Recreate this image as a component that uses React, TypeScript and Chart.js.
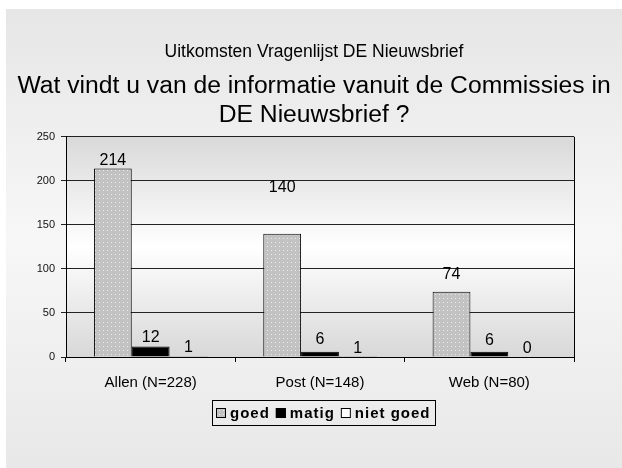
import React, { useEffect, useRef } from 'react';
import { Chart, registerables } from 'chart.js';

Chart.register(...registerables);

const categories = ['Allen (N=228)', 'Post (N=148)', 'Web (N=80)'];
const seriesNames = ['goed', 'matig', 'niet goed'];
const goedValues = [214, 140, 74];
const matigValues = [12, 6, 6];
const nietGoedValues = [1, 1, 0];
const yTickValues = [0, 50, 100, 150, 200, 250];
const topTitle = 'Uitkomsten Vragenlijst DE Nieuwsbrief';
const mainTitle = ['Wat vindt u van de informatie vanuit de Commissies in', 'DE Nieuwsbrief ?'];

// style: how far (px) each value label sits above its bar, per series
const labelLiftGoed = [4, 42, 13];
const labelLiftMatig = [4, 8, 7];
const labelLiftNietGoed = [4, 3, 4];
const labelLifts = [labelLiftGoed, labelLiftMatig, labelLiftNietGoed];

const FONT = '"Liberation Sans", Arial, Helvetica, sans-serif';

function makePattern(): CanvasPattern | string {
  const c = document.createElement('canvas');
  c.width = 4;
  c.height = 4;
  const g = c.getContext('2d');
  if (!g) return '#c4c4c4';
  g.fillStyle = '#c2c2c2';
  g.fillRect(0, 0, 4, 4);
  g.fillStyle = '#ececec';
  g.fillRect(1, 1, 1, 1);
  const p = g.createPattern(c, 'repeat');
  return p || '#c4c4c4';
}

const backgroundPlugin = {
  id: 'bgPlugin',
  beforeDraw(chart: any) {
    const { ctx, width, height, chartArea } = chart;
    ctx.save();
    const g = ctx.createLinearGradient(0, 0, 0, height);
    g.addColorStop(0, '#e6e6e6');
    g.addColorStop(0.5, '#f7f7f7');
    g.addColorStop(1, '#e8e8e8');
    ctx.fillStyle = g;
    ctx.fillRect(0, 0, width, height);
    const pg = ctx.createLinearGradient(0, chartArea.top, 0, chartArea.bottom);
    pg.addColorStop(0, '#d9d9d9');
    pg.addColorStop(0.5, '#ffffff');
    pg.addColorStop(1, '#d8d8d8');
    ctx.fillStyle = pg;
    ctx.fillRect(chartArea.left, chartArea.top, chartArea.right - chartArea.left, chartArea.bottom - chartArea.top);
    ctx.restore();
  },
};

const framePlugin = {
  id: 'framePlugin',
  afterDraw(chart: any) {
    const { ctx, chartArea } = chart;
    ctx.save();
    ctx.strokeStyle = '#000';
    ctx.lineWidth = 1;
    ctx.beginPath();
    ctx.moveTo(Math.round(chartArea.right) + 0.5, chartArea.top);
    ctx.lineTo(Math.round(chartArea.right) + 0.5, chartArea.bottom);
    ctx.stroke();
    ctx.restore();
  },
};

const valueLabelPlugin = {
  id: 'valueLabels',
  afterDatasetsDraw(chart: any) {
    const ctx = chart.ctx;
    ctx.save();
    ctx.font = `16px ${FONT}`;
    ctx.fillStyle = '#000';
    ctx.textAlign = 'center';
    ctx.textBaseline = 'alphabetic';
    chart.data.datasets.forEach((ds: any, di: number) => {
      const meta = chart.getDatasetMeta(di);
      meta.data.forEach((el: any, i: number) => {
        const lift = (labelLifts[di] && labelLifts[di][i]) || 4;
        ctx.fillText(String(ds.data[i]), el.x, el.y - lift);
      });
    });
    ctx.restore();
  },
};

const boxLegendPlugin = {
  id: 'boxLegend',
  afterDraw(chart: any) {
    const { ctx, chartArea } = chart;
    const xs = chart.scales.x;
    ctx.save();
    ctx.font = `bold 15px ${FONT}`;
    try { (ctx as any).letterSpacing = '1px'; } catch (e) { /* ignore */ }
    const box = 10;
    const gapBT = 4;
    const gapItem = 6;
    const padX = 4;
    const items = chart.data.datasets.map((ds: any) => ({
      label: ds.label as string,
      fill: ds.backgroundColor,
      w: ctx.measureText(ds.label).width,
    }));
    let total = padX * 2 + gapItem * (items.length - 1);
    items.forEach((it: any) => { total += box + gapBT + it.w; });
    const cx = (chartArea.left + chartArea.right) / 2 + 3;
    const left = Math.round(cx - total / 2);
    const top = Math.round(xs.bottom + 3);
    const h = 25;
    ctx.strokeStyle = '#000';
    ctx.lineWidth = 1;
    ctx.strokeRect(left + 0.5, top + 0.5, Math.round(total), h);
    const mid = top + h / 2 + 0.5;
    let x = left + padX;
    ctx.textBaseline = 'middle';
    ctx.textAlign = 'left';
    items.forEach((it: any) => {
      ctx.fillStyle = it.fill;
      ctx.fillRect(x, Math.round(mid - box / 2), box, box);
      ctx.strokeRect(x + 0.5, Math.round(mid - box / 2) + 0.5, box - 1, box - 1);
      x += box + gapBT;
      ctx.fillStyle = '#000';
      ctx.fillText(it.label, x, mid + 1);
      x += it.w + gapItem;
    });
    ctx.restore();
  },
};

export default function App() {
  const canvasRef = useRef<HTMLCanvasElement | null>(null);

  useEffect(() => {
    const canvas = canvasRef.current;
    if (!canvas) return;
    const pattern = makePattern();
    const chart = new Chart(canvas, {
      type: 'bar',
      data: {
        labels: categories,
        datasets: [
          { label: seriesNames[0], data: goedValues, backgroundColor: pattern as any, borderColor: '#000', borderWidth: 1, yAxisID: 'y' },
          { label: seriesNames[1], data: matigValues, backgroundColor: '#000000', borderColor: '#000', borderWidth: 1, yAxisID: 'y' },
          { label: seriesNames[2], data: nietGoedValues, backgroundColor: '#ffffff', borderColor: '#000', borderWidth: 1, yAxisID: 'y' },
        ],
      },
      options: {
        animation: false,
        responsive: true,
        maintainAspectRatio: false,
        datasets: { bar: { categoryPercentage: 0.67, barPercentage: 1.0 } },
        layout: { padding: { left: 10, right: 10, top: 0, bottom: 71 } },
        plugins: {
          legend: { display: false },
          tooltip: { enabled: false },
          title: {
            display: true,
            text: topTitle,
            color: '#000',
            font: { family: FONT, size: 17.5, weight: 'normal', lineHeight: 1.2 },
            padding: { top: 33, bottom: 0 },
          },
          subtitle: {
            display: true,
            text: mainTitle,
            color: '#000',
            font: { family: FONT, size: 24.7, weight: 'normal', lineHeight: 1.17 },
            padding: { top: 9, bottom: 7 },
          },
        },
        scales: {
          x: {
            afterFit: (s: any) => { s.height = 40; },
            grid: { display: true, drawOnChartArea: false, drawTicks: true, tickLength: 5, color: '#000', offset: true },
            border: { color: '#000', width: 1 },
            ticks: { color: '#000', font: { family: FONT, size: 15 }, padding: 12 },
          },
          y: {
            position: 'left',
            min: 0,
            max: 250,
            afterFit: (s: any) => { s.width = 50; },
            afterBuildTicks: (s: any) => { s.ticks = yTickValues.map((v) => ({ value: v })); },
            grid: { color: '#222', lineWidth: 1, drawTicks: true, tickLength: 5 },
            border: { color: '#000', width: 1 },
            ticks: { color: '#111', font: { family: FONT, size: 11 }, padding: 6 },
          },
          spacer: {
            type: 'linear',
            position: 'right',
            min: 0,
            max: 1,
            afterFit: (s: any) => { s.width = 38; },
            grid: { display: false, drawOnChartArea: false, drawTicks: false },
            border: { display: false },
            ticks: { display: false },
          },
        },
      },
      plugins: [backgroundPlugin, valueLabelPlugin, framePlugin, boxLegendPlugin],
    } as any);
    return () => chart.destroy();
  }, []);

  return (
    <div style={{ position: 'fixed', left: 6, top: 9, width: 616, height: 459 }}>
      <canvas ref={canvasRef} />
    </div>
  );
}
